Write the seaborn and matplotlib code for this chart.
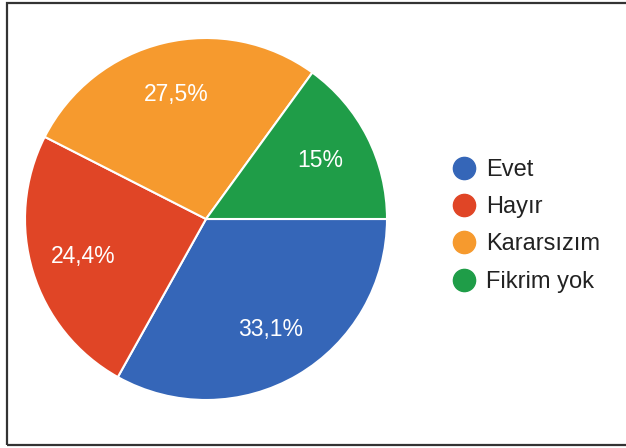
import matplotlib
matplotlib.use("Agg")
import matplotlib.pyplot as plt
import seaborn as sns
import numpy as np
from matplotlib.lines import Line2D
from matplotlib.patches import Rectangle

categories = ["Evet", "Hayır", "Kararsızım", "Fikrim yok"]
values = [33.1, 24.4, 27.5, 15.0]
pct_labels = ["33,1%", "24,4%", "27,5%", "15%"]
colors = ["#3566B8", "#E04526", "#F69A2E", "#1F9D48"]

sns.set_theme(style="white")
plt.rcParams["font.family"] = ["Liberation Sans", "DejaVu Sans"]

W, H = 626, 448
fig = plt.figure(figsize=(W / 100, H / 100), dpi=100)
fig.patch.set_facecolor("white")

# frame border
fig.patches.append(Rectangle((7 / W, 3 / H), 1.0, (442) / H, transform=fig.transFigure,
                             fill=False, edgecolor="#333333", linewidth=1.6, zorder=10))

cx, cy, r = 206, 219, 181
ax = fig.add_axes([(cx - r) / W, (H - cy - r) / H, 2 * r / W, 2 * r / H])
wedges, texts = ax.pie(values, colors=colors, startangle=0, counterclock=False,
                       radius=1.0, wedgeprops=dict(edgecolor="white", linewidth=1.5))
for w, lab in zip(wedges, pct_labels):
    mid = np.deg2rad((w.theta1 + w.theta2) / 2)
    ax.text(0.71 * np.cos(mid), 0.71 * np.sin(mid), lab, ha="center", va="center",
            color="white", fontsize=16.5)
ax.set_xlim(-1, 1)
ax.set_ylim(-1, 1)
ax.set_aspect("equal")
ax.axis("off")

handles = [Line2D([0], [0], marker="o", linestyle="none", markersize=16,
                  markerfacecolor=c, markeredgecolor=c) for c in colors]
fig.legend(handles, categories, loc="upper left", bbox_to_anchor=(440 / W, 1 - 147 / H),
           frameon=False, fontsize=17, labelcolor="#222222", handletextpad=0.45,
           labelspacing=0.65, handlelength=1.0, borderpad=0)

fig.savefig("out.png", dpi=100)
